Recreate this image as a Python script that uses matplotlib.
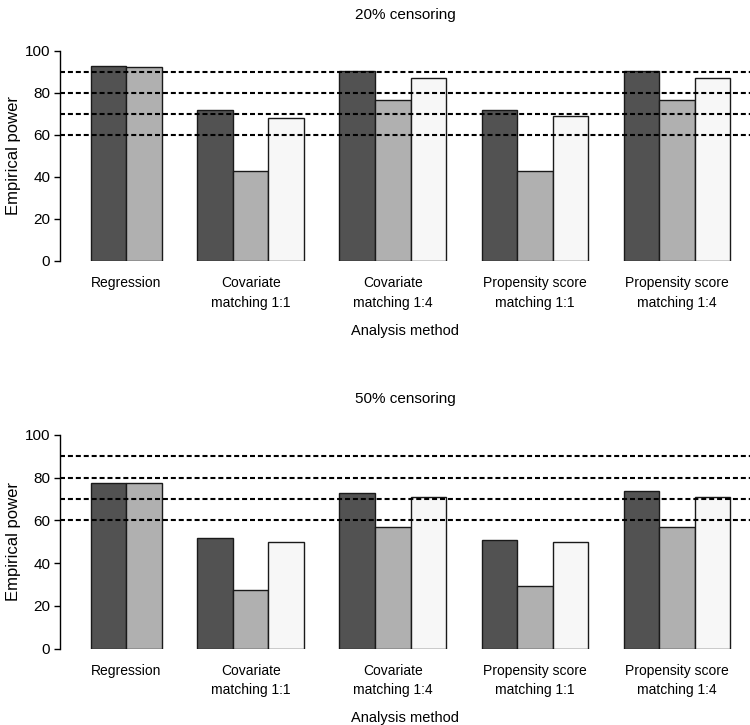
"""Empirical power by analysis method, 20% and 50% censoring."""

import matplotlib
matplotlib.use("Agg")
import matplotlib.pyplot as plt
import numpy as np

methods = [
    "Regression",
    "Covariate\nmatching 1:1",
    "Covariate\nmatching 1:4",
    "Propensity score\nmatching 1:1",
    "Propensity score\nmatching 1:4",
]
titles = ["20% censoring", "50% censoring"]

# three series per method (Regression has no third bar)
power_20 = [
    [92.7, 71.6, 90.2, 71.9, 90.2],
    [92.3, 42.6, 76.6, 43.0, 76.6],
    [np.nan, 68.0, 86.9, 68.9, 87.1],
]
power_50 = [
    [77.6, 51.6, 72.9, 50.6, 73.7],
    [77.6, 27.6, 56.8, 29.5, 56.8],
    [np.nan, 49.7, 70.8, 49.7, 71.0],
]
ref_lines = [60, 70, 80, 90]

colors = ["#525252", "#b0b0b0", "#f7f7f7"]
narrow = ["Liberation Sans Narrow", "Liberation Sans", "DejaVu Sans"]

fig = plt.figure(figsize=(7.5, 7.25), dpi=100)
axes = [
    fig.add_axes([0.08, 0.640, 0.92, 0.290]),
    fig.add_axes([0.08, 0.1055, 0.92, 0.2945]),
]


def draw(ax, data, title):
    data = np.array(data, dtype=float)
    # bars in bar-width units, one empty slot between groups
    pos = 0.0
    centers = []
    for j in range(len(methods)):
        lefts = []
        for i in range(data.shape[0]):
            if np.isnan(data[i, j]):
                continue
            ax.bar(pos, data[i, j], width=1.0, align="edge", color=colors[i],
                   edgecolor="#1a1a1a", linewidth=1.0, zorder=2)
            lefts.append(pos)
            pos += 1
        centers.append((lefts[0] + lefts[-1] + 1) / 2)
        pos += 1

    for y in ref_lines:
        ax.axhline(y, color="black", linewidth=1.5, dashes=(2.4, 1.4), zorder=3)

    ax.set_xlim(-0.87, pos - 1 + 0.56)
    ax.set_ylim(0, 100)
    ax.set_yticks(range(0, 101, 20))
    ax.set_xticks(centers)
    ax.set_xticklabels(methods, family=narrow, fontsize=10, linespacing=1.5)
    ax.tick_params(axis="x", length=0, pad=11)
    ax.tick_params(axis="y", length=4, width=1, direction="out", pad=3)
    for lab in ax.get_yticklabels():
        lab.set_family(narrow)
        lab.set_fontsize(11)
    for s in ["top", "right", "bottom"]:
        ax.spines[s].set_visible(False)
    ax.spines["left"].set_linewidth(1.0)
    ax.set_title(title, family=narrow, fontsize=11, pad=23)
    ax.set_xlabel("Analysis method", family=narrow, fontsize=10.5, labelpad=10)
    ax.set_ylabel("Empirical power", fontsize=12, family=["Liberation Sans", "DejaVu Sans"])
    ax.yaxis.set_label_coords(-0.057, 0.5)


draw(axes[0], power_20, titles[0])
draw(axes[1], power_50, titles[1])

fig.savefig("out.png", dpi=100)
